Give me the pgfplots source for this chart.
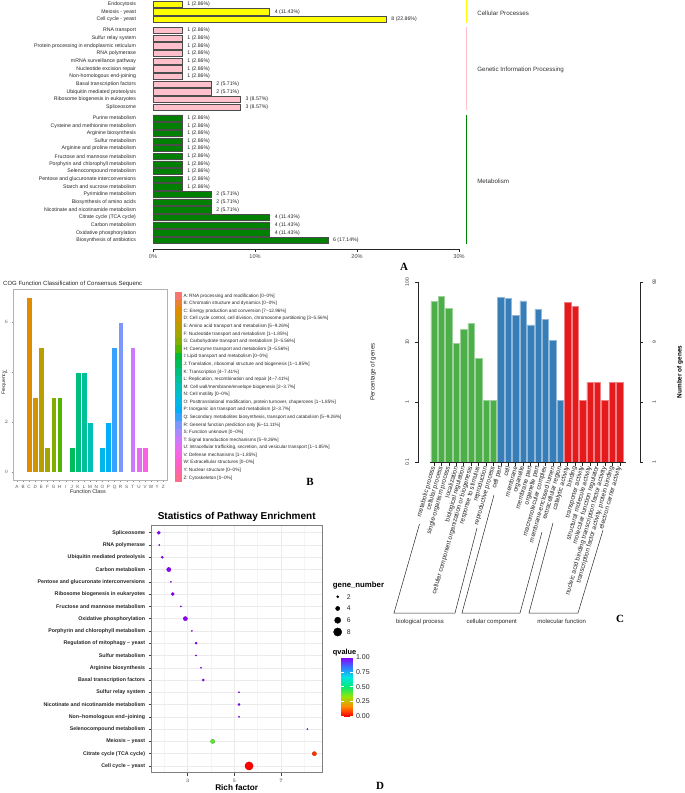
\documentclass[border=0pt]{standalone}
\usepackage{fontspec}
\setmainfont{Liberation Sans}
\newfontfamily\tnr{Liberation Serif}
\usepackage{pgfplots}
\pgfplotsset{compat=1.18}
\usetikzlibrary{calc}

\newcommand\fs[1]{\fontsize{#1}{#1}\selectfont}
\newcommand\tld{\textasciitilde}

\definecolor{yel}{HTML}{FFFF00}
\definecolor{pnk}{HTML}{FFC0CB}
\definecolor{grn}{HTML}{008000}
\definecolor{goG}{HTML}{4DAF4A}
\definecolor{goB}{HTML}{377EB8}
\definecolor{goR}{HTML}{E41A1C}
% ggplot hue palette, 25 COG classes
\definecolor{cA}{HTML}{F8766D}
\definecolor{cB}{HTML}{EA8331}
\definecolor{cC}{HTML}{E08B00}
\definecolor{cD}{HTML}{CF9400}
\definecolor{cE}{HTML}{BA9E00}
\definecolor{cF}{HTML}{A3A500}
\definecolor{cG}{HTML}{85AC00}
\definecolor{cH}{HTML}{53B400}
\definecolor{cI}{HTML}{00B934}
\definecolor{cJ}{HTML}{00BC59}
\definecolor{cK}{HTML}{00BF7D}
\definecolor{cL}{HTML}{00C19A}
\definecolor{cM}{HTML}{00C0B8}
\definecolor{cN}{HTML}{00BDD0}
\definecolor{cO}{HTML}{00B7E6}
\definecolor{cP}{HTML}{00B0F6}
\definecolor{cQ}{HTML}{35A2FF}
\definecolor{cR}{HTML}{7D97FF}
\definecolor{cS}{HTML}{A889FF}
\definecolor{cT}{HTML}{CD79FD}
\definecolor{cU}{HTML}{E76BF3}
\definecolor{cV}{HTML}{F763E0}
\definecolor{cW}{HTML}{FF61C9}
\definecolor{cY}{HTML}{FF64AE}
\definecolor{cZ}{HTML}{FF6C91}

\begin{document}
\begin{tikzpicture}
\path[use as bounding box] (0,0) rectangle (685pt,-793pt);

% ---------------- A: KEGG classification ----------------
\begin{axis}[
  at={(153pt,-249pt)}, anchor=south west, scale only axis,
  width=306pt, height=249pt,
  xmin=0, xmax=30, ymin=-0.55, ymax=32.04, y dir=reverse,
  clip=false,
  axis x line*=bottom, axis y line*=left,
  y axis line style={draw=none}, ytick style={draw=none},
  x axis line style={line width=0.9pt, black!85},
  xtick={0,10,20,30}, xticklabels={0\%,10\%,20\%,30\%},
  xtick style={black!85, line width=0.5pt},
  tick align=outside, major tick length=2.5pt,
  xticklabel style={font=\fs{5.6}, text=black!75},
  ytick={0,1,2,3.45,4.45,5.45,6.45,7.45,8.45,9.45,10.45,11.45,12.45,13.45,
         14.9,15.9,16.9,17.9,18.9,19.9,20.9,21.9,22.9,23.9,24.9,25.9,26.9,27.9,28.9,29.9,30.9},
  yticklabels={Endocytosis,Meiosis - yeast,Cell cycle - yeast,
    RNA transport,Sulfur relay system,Protein processing in endoplasmic reticulum,RNA polymerase,
    mRNA surveillance pathway,Nucleotide excision repair,Non-homologous end-joining,
    Basal transcription factors,Ubiquitin mediated proteolysis,Ribosome biogenesis in eukaryotes,Spliceosome,
    Purine metabolism,Cysteine and methionine metabolism,Arginine biosynthesis,Sulfur metabolism,
    Arginine and proline metabolism,Fructose and mannose metabolism,Porphyrin and chlorophyll metabolism,
    Selenocompound metabolism,Pentose and glucuronate interconversions,Starch and sucrose metabolism,
    Pyrimidine metabolism,Biosynthesis of amino acids,Nicotinate and nicotinamide metabolism,
    Citrate cycle (TCA cycle),Carbon metabolism,Oxidative phosphorylation,Biosynthesis of antibiotics},
  yticklabel style={font=\fs{5.2}, text=black!85, xshift=-11pt},
  xbar, bar width=6.2pt, bar shift=0pt,
  nodes near coords, point meta=explicit symbolic,
  every node near coord/.append style={font=\fs{5.2}, text=black!85, anchor=west, xshift=5pt, inner sep=0pt},
]
\addplot[fill=yel, draw=black!70, line width=0.5pt] coordinates {
  (2.86,0) [1 (2.86\%)] (11.43,1) [4 (11.43\%)] (22.86,2) [8 (22.86\%)]};
\addplot[fill=pnk, draw=black!70, line width=0.5pt] coordinates {
  (2.86,3.45) [1 (2.86\%)] (2.86,4.45) [1 (2.86\%)] (2.86,5.45) [1 (2.86\%)]
  (2.86,6.45) [1 (2.86\%)] (2.86,7.45) [1 (2.86\%)] (2.86,8.45) [1 (2.86\%)]
  (2.86,9.45) [1 (2.86\%)] (5.71,10.45) [2 (5.71\%)] (5.71,11.45) [2 (5.71\%)]
  (8.57,12.45) [3 (8.57\%)] (8.57,13.45) [3 (8.57\%)]};
\addplot[fill=grn, draw=black!70, line width=0.5pt] coordinates {
  (2.86,14.9) [1 (2.86\%)] (2.86,15.9) [1 (2.86\%)] (2.86,16.9) [1 (2.86\%)]
  (2.86,17.9) [1 (2.86\%)] (2.86,18.9) [1 (2.86\%)] (2.86,19.9) [1 (2.86\%)]
  (2.86,20.9) [1 (2.86\%)] (2.86,21.9) [1 (2.86\%)] (2.86,22.9) [1 (2.86\%)]
  (2.86,23.9) [1 (2.86\%)] (5.71,24.9) [2 (5.71\%)] (5.71,25.9) [2 (5.71\%)]
  (5.71,26.9) [2 (5.71\%)] (11.43,27.9) [4 (11.43\%)] (11.43,28.9) [4 (11.43\%)]
  (11.43,29.9) [4 (11.43\%)] (17.14,30.9) [6 (17.14\%)]};
\draw[yel, line width=1.2pt] (axis cs:30.75,-0.55) -- (axis cs:30.75,2.46);
\draw[pnk, line width=1pt] (axis cs:30.75,2.98) -- (axis cs:30.75,13.9);
\draw[grn, line width=1pt] (axis cs:30.75,14.5) -- (axis cs:30.75,31.4);
\node[anchor=west, font=\fs{6.2}, text=black!80] at (axis cs:31.45,1.15) {Cellular Processes};
\node[anchor=west, font=\fs{6.2}, text=black!80] at (axis cs:31.45,8.6) {Genetic Information Processing};
\node[anchor=west, font=\fs{6.2}, text=black!80] at (axis cs:31.45,23.14) {Metabolism};
\end{axis}

% ---------------- B: COG ----------------
\begin{axis}[
  at={(13.3pt,-480pt)}, anchor=south west, scale only axis,
  width=153.7pt, height=191pt,
  xmin=0.4, xmax=25.6, ymin=-0.33, ymax=7.31,
  ybar, bar width=5.7pt, bar shift=0pt,
  axis line style={black!30, line width=0.5pt},
  tick pos=left, tick align=outside, major tick length=1.8pt,
  tick style={black!45, line width=0.4pt},
  xtick={1,...,25}, xticklabels={A,B,C,D,E,F,G,H,I,J,K,L,M,N,O,P,Q,R,S,T,U,V,W,Y,Z},
  ytick={0,2,4,6},
  ticklabel style={font=\fs{4.6}, text=black!65},
  every axis plot/.append style={draw=white, line width=0.4pt},
]
\addplot[fill=cC] coordinates {(3,7)};
\addplot[fill=cD] coordinates {(4,3)};
\addplot[fill=cE] coordinates {(5,5)};
\addplot[fill=cF] coordinates {(6,1)};
\addplot[fill=cG] coordinates {(7,3)};
\addplot[fill=cH] coordinates {(8,3)};
\addplot[fill=cJ] coordinates {(10,1)};
\addplot[fill=cK] coordinates {(11,4)};
\addplot[fill=cL] coordinates {(12,4)};
\addplot[fill=cM] coordinates {(13,2)};
\addplot[fill=cO] coordinates {(15,1)};
\addplot[fill=cP] coordinates {(16,2)};
\addplot[fill=cQ] coordinates {(17,5)};
\addplot[fill=cR] coordinates {(18,6)};
\addplot[fill=cT] coordinates {(20,5)};
\addplot[fill=cU] coordinates {(21,1)};
\addplot[fill=cV] coordinates {(22,1)};
\end{axis}

% ---------------- C: GO ----------------
\begin{axis}[
  at={(418pt,-462.5pt)}, anchor=south west, scale only axis,
  width=222pt, height=180.5pt,
  xmin=-1.153, xmax=28.725, ymode=log, ymin=0.1, ymax=100, log origin=infty,
  ybar, bar width=6.4pt, bar shift=0pt,
  axis y line*=left, axis x line*=bottom, x axis line style={draw=none},
  y axis line style={line width=0.6pt, black!85},
  ytick={0.1,1,10,100}, yticklabels={0.1,1,10,100}, yminorticks=false,
  xtick={1,...,26},
  xticklabels={metabolic process,cellular process,single-organism process,localization,
    biological regulation,cellular component organization or biogenesis,response to stimulus,
    reproduction,reproductive process,cell part,cell,membrane,organelle,membrane part,
    organelle part,macromolecular complex,membrane-enclosed lumen,extracellular region,
    catalytic activity,binding,transporter activity,structural molecule activity,
    molecular function regulator,nucleic acid binding transcription factor activity,
    {transcription factor activity, protein binding},electron carrier activity},
  tick align=outside, major tick length=3pt,
  tick style={black!85, line width=0.5pt},
  yticklabel style={rotate=90, anchor=south, font=\fs{5}, text=black!80},
  yticklabel shift=2.5pt,
  xticklabel style={rotate=74, anchor=east, font=\fs{6.5}, inner sep=1pt, text=black!85},
  clip=false,
]
\addplot[fill=goG, draw=goG!55!white, line width=0.4pt] coordinates {
  (1,47.31) (2,58.06) (3,36.56) (4,9.68) (5,16.13) (6,20.43) (7,5.38) (8,1.08) (9,1.08)};
\addplot[fill=goB, draw=goB!55!white, line width=0.4pt] coordinates {
  (10,55.91) (11,53.76) (12,27.96) (13,48.39) (14,19.35) (15,35.48) (16,23.66) (17,10.75) (18,1.08)};
\addplot[fill=goR, draw=goR!55!white, line width=0.4pt] coordinates {
  (19,46.24) (20,39.78) (21,1.08) (22,2.15) (23,2.15) (24,1.08) (25,2.15) (26,2.15)};
\draw[black!85, line width=0.6pt] (axis cs:0.4,0.1) -- (axis cs:26.9,0.1);
\end{axis}
\begin{axis}[
  at={(418pt,-462.5pt)}, anchor=south west, scale only axis,
  width=222pt, height=180.5pt,
  xmin=-1.153, xmax=28.725, ymode=log, ymin=0.1, ymax=100,
  axis y line*=right, axis x line=none,
  y axis line style={line width=0.6pt, black!85},
  ytick={0.1,1,10,100}, yticklabels={1,1,9,93}, yminorticks=false,
  tick align=outside, major tick length=3pt,
  tick style={black!85, line width=0.5pt},
  yticklabel style={rotate=90, anchor=north, font=\fs{5}, text=black!80},
  yticklabel shift=6pt,
]
\end{axis}

% ---------------- D: enrichment scatter ----------------
\begin{axis}[
  at={(151.7pt,-772.7pt)}, anchor=south west, scale only axis,
  width=171pt, height=247.7pt,
  xmin=1.457, xmax=8.787, ymin=0.373, ymax=20.55, y dir=reverse,
  xtick={3,5,7}, minor xtick={2,4,6,8}, ytick={1,...,20},
  yticklabels={Spliceosome,RNA polymerase,Ubiquitin mediated proteolysis,Carbon metabolism,
    Pentose and glucuronate interconversions,Ribosome biogenesis in eukaryotes,
    Fructose and mannose metabolism,Oxidative phosphorylation,Porphyrin and chlorophyll metabolism,
    Regulation of mitophagy -- yeast,Sulfur metabolism,Arginine biosynthesis,Basal transcription factors,
    Sulfur relay system,Nicotinate and nicotinamide metabolism,Non--homologous end--joining,
    Selenocompound metabolism,Meiosis -- yeast,Citrate cycle (TCA cycle),Cell cycle -- yeast},
  grid=both, major grid style={black!8, line width=0.5pt}, minor grid style={black!4, line width=0.4pt},
  axis line style={black!50, line width=0.6pt},
  tick pos=left, tick align=outside, major tick length=3pt, minor tick length=0pt,
  tick style={black!75, line width=0.5pt},
  ticklabel style={font=\fs{5.3}\bfseries, text=black!85},
  colormap={qv}{rgb255=(255,0,0) rgb255=(255,140,0) rgb255=(150,230,0) rgb255=(0,235,120)
    rgb255=(0,230,230) rgb255=(50,120,255) rgb255=(140,0,255)},
  point meta min=0, point meta max=1,
  colorbar,
  colorbar style={
    at={($(parent axis.south east)+(10pt,56.7pt)$)}, anchor=south west,
    scale only axis, width=11.3pt, height=58.7pt,
    ytick={0,0.25,0.5,0.75,1}, yticklabels={0.00,0.25,0.50,0.75,1.00},
    yticklabel style={font=\fs{7}, text=black!85},
    axis line style={draw=none},
    major tick length=2.3pt, tick style={white, line width=0.5pt},
  },
]
\addplot[scatter, only marks, mark=*, point meta=explicit,
  visualization depends on={0.5*\thisrow{n}+0.1 \as \msz},
  scatter/@pre marker code/.append style={/tikz/mark size=\msz}]
  table[x=rf, y=i, meta=q, row sep=\\] {
  rf i q n \\
  1.76 1 1.0 3 \\
  1.78 2 1.0 1 \\
  1.91 3 1.0 2 \\
  2.19 4 1.0 4 \\
  2.28 5 1.0 1 \\
  2.36 6 1.0 3 \\
  2.71 7 1.0 1 \\
  2.90 8 1.0 4 \\
  3.18 9 1.0 1 \\
  3.36 10 1.0 2 \\
  3.36 11 1.0 1 \\
  3.57 12 1.0 1 \\
  3.67 13 1.0 2 \\
  5.20 14 1.0 1 \\
  5.20 15 1.0 2 \\
  5.20 16 1.0 1 \\
  8.13 17 1.0 1 \\
  4.07 18 0.40 4 \\
  8.43 19 0.06 4 \\
  5.63 20 0.0 8 \\
};
\end{axis}

% gene_number size key
\begin{axis}[
  at={(332.7pt,-632pt)}, anchor=south west, scale only axis,
  width=10pt, height=35.3pt, xmin=-1, xmax=1, ymin=1, ymax=4, y dir=reverse,
  hide axis, clip=false,
  nodes near coords, point meta=explicit symbolic,
  every node near coord/.append style={anchor=west, font=\fs{6.8}, text=black!85, xshift=9pt, inner sep=0pt},
]
\addplot[only marks, mark=*, black, mark size=1.1] coordinates {(0,1) [2]};
\addplot[only marks, mark=*, black, mark size=2.1] coordinates {(0,2) [4]};
\addplot[only marks, mark=*, black, mark size=3.1] coordinates {(0,3) [6]};
\addplot[only marks, mark=*, black, mark size=4.1] coordinates {(0,4) [8]};
\end{axis}

\begin{scope}[x=1pt, y=-1pt]
% B legend strip
\foreach \c/\t [count=\k] in {
  cA/{A: RNA processing and modification [0\tld0\%]},
  cB/{B: Chromatin structure and dynamics [0\tld0\%]},
  cC/{C: Energy production and conversion [7\tld12.96\%]},
  cD/{D: Cell cycle control, cell division, chromosome partitioning [3\tld5.56\%]},
  cE/{E: Amino acid transport and metabolism [5\tld9.26\%]},
  cF/{F: Nucleotide transport and metabolism [1\tld1.85\%]},
  cG/{G: Carbohydrate transport and metabolism [3\tld5.56\%]},
  cH/{H: Coenzyme transport and metabolism [3\tld5.56\%]},
  cI/{I: Lipid transport and metabolism [0\tld0\%]},
  cJ/{J: Translation, ribosomal structure and biogenesis [1\tld1.85\%]},
  cK/{K: Transcription [4\tld7.41\%]},
  cL/{L: Replication, recombination and repair [4\tld7.41\%]},
  cM/{M: Cell wall/membrane/envelope biogenesis [2\tld3.7\%]},
  cN/{N: Cell motility [0\tld0\%]},
  cO/{O: Posttranslational modification, protein turnover, chaperones [1\tld1.85\%]},
  cP/{P: Inorganic ion transport and metabolism [2\tld3.7\%]},
  cQ/{Q: Secondary metabolites biosynthesis, transport and catabolism [5\tld9.26\%]},
  cR/{R: General function prediction only [6\tld11.11\%]},
  cS/{S: Function unknown [0\tld0\%]},
  cT/{T: Signal transduction mechanisms [5\tld9.26\%]},
  cU/{U: Intracellular trafficking, secretion, and vesicular transport [1\tld1.85\%]},
  cV/{V: Defense mechanisms [1\tld1.85\%]},
  cW/{W: Extracellular structures [0\tld0\%]},
  cY/{Y: Nuclear structure [0\tld0\%]},
  cZ/{Z: Cytoskeleton [0\tld0\%]}} {
  \pgfmathsetmacro\yy{296+7.58*(\k-1)}
  \fill[\c] (175,\yy-3.8) rectangle (181.7,\yy+3.8);
  \node[anchor=west, font=\fs{4.7}, text=black!85, inner sep=0pt] at (183.3,\yy) {\t};
}
\node[anchor=west, font=\fs{6}, text=black!85, inner sep=0pt] at (3,284) {COG Function Classification of Consensus Sequenc};
\node[rotate=90, font=\fs{5}, text=black!85] at (4,383) {Frequency};
\node[font=\fs{5.4}, text=black!85] at (88,492) {Function Class};

% C annotations
\node[rotate=90, font=\fs{6.2}, text=black!85] at (373,372) {Percentage of genes};
\node[rotate=90, font=\fs{6.4}\bfseries] at (680,372) {Number of genes};
\draw[black!85, line width=0.5pt] (419.5,524) -- (394,613) -- (455,613) -- (477,528);
\draw[black!85, line width=0.5pt] (494,495) -- (462,613) -- (520,613) -- (542,532);
\draw[black!85, line width=0.5pt] (553,523) -- (529,613) -- (578,613) -- (603,530);
\node[font=\fs{6}, text=black!85] at (420,621.7) {biological process};
\node[font=\fs{6}, text=black!85] at (491.7,621.7) {cellular component};
\node[font=\fs{6}, text=black!85] at (561.7,621.7) {molecular function};

% D annotations
\node[font=\fs{10}\bfseries] at (236.7,516.7) {Statistics of Pathway Enrichment};
\node[font=\fs{8.2}\bfseries] at (236.7,788) {Rich factor};
\node[anchor=west, font=\fs{7.8}\bfseries, inner sep=0pt] at (332.7,585) {gene\_number};
\node[anchor=west, font=\fs{7.4}\bfseries, inner sep=0pt] at (332.7,652.7) {qvalue};

% panel letters
\node[font=\tnr\bfseries\fs{11}] at (404,267) {A};
\node[font=\tnr\bfseries\fs{11}] at (310,482) {B};
\node[font=\tnr\bfseries\fs{11}] at (620,619) {C};
\node[font=\tnr\bfseries\fs{11}] at (380,786) {D};
\end{scope}
\end{tikzpicture}
\end{document}
